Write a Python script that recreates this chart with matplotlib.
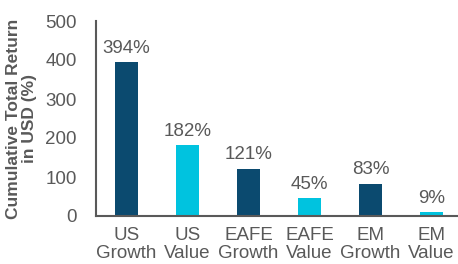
import matplotlib
matplotlib.use("Agg")
import matplotlib.pyplot as plt

categories = ["US\nGrowth", "US\nValue", "EAFE\nGrowth", "EAFE\nValue", "EM\nGrowth", "EM\nValue"]
returns = [394, 182, 121, 45, 83, 9]
bar_colors = ["#0b4a6f", "#00c3df", "#0b4a6f", "#00c3df", "#0b4a6f", "#00c3df"]
yticks = [0, 100, 200, 300, 400, 500]

grey = "#595959"
plt.rcParams["font.family"] = ["Liberation Sans", "DejaVu Sans"]

fig = plt.figure(figsize=(4.58, 2.64), dpi=100)
ax = fig.add_axes([96 / 458, 48 / 264, 366 / 458, 195 / 264])

x = range(len(categories))
ax.bar(x, returns, width=0.37, color=bar_colors)
for xi, v in zip(x, returns):
    ax.text(xi, v + 14, f"{v}%", ha="center", va="bottom", fontsize=13.5, color=grey)

ax.set_xlim(-0.5, 5.5)
ax.set_ylim(0, 500)
ax.set_yticks(yticks)
ax.set_xticks(list(x))
ax.set_xticklabels(categories, fontsize=13.5, color=grey, linespacing=1.1)
ax.tick_params(axis="y", labelsize=13.5, labelcolor=grey, length=0, pad=14)
ax.tick_params(axis="x", length=0, pad=8)

for s in ["top", "right"]:
    ax.spines[s].set_visible(False)
for s in ["left", "bottom"]:
    ax.spines[s].set_color(grey)
    ax.spines[s].set_linewidth(1.5)

ax.set_ylabel("Cumulative Total Return\nin USD (%)", fontsize=12.5, fontweight="bold",
              color=grey, linespacing=1.05, labelpad=6)

fig.savefig("out.png", dpi=100)
